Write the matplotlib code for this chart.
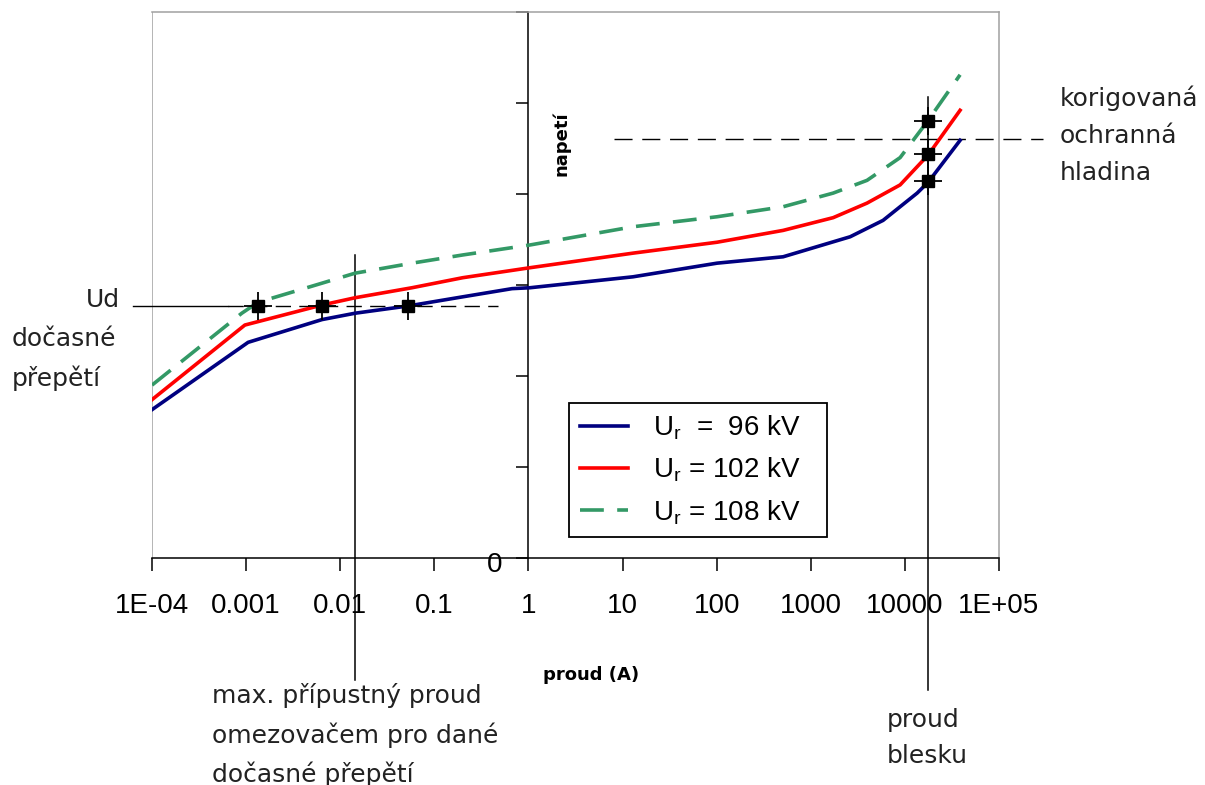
import numpy as np
import matplotlib.pyplot as plt

# proud (A) vs napeti, three arrester ratings
i_96 = [1e-4, 1.05e-3, 6.4e-3, 0.0144, 0.053, 0.2, 0.67, 1.04, 12.9, 101, 508, 2620, 5860, 13500, 17700, 38600]
u_96 = [1.63, 2.37, 2.62, 2.69, 2.77, 2.87, 2.96, 2.97, 3.09, 3.24, 3.31, 3.53, 3.71, 4.01, 4.13, 4.59]

i_102 = [1e-4, 9.7e-4, 6.4e-3, 0.0144, 0.058, 0.2, 1.04, 12.9, 101, 508, 1730, 3960, 8900, 17700, 38600]
u_102 = [1.74, 2.56, 2.78, 2.86, 2.97, 3.08, 3.19, 3.35, 3.47, 3.60, 3.74, 3.90, 4.10, 4.43, 4.92]

i_108 = [1e-4, 9e-4, 1.34e-3, 6.4e-3, 0.0144, 0.058, 0.2, 1.04, 12.9, 101, 508, 1730, 3960, 8900, 17700, 38600]
u_108 = [1.90, 2.69, 2.81, 3.02, 3.13, 3.24, 3.33, 3.44, 3.64, 3.75, 3.86, 4.01, 4.15, 4.40, 4.81, 5.31]

labels = ['U$_\\mathregular{r}$  =  96 kV', 'U$_\\mathregular{r}$ = 102 kV', 'U$_\\mathregular{r}$ = 108 kV']

ud = 2.77                      # docasne prepeti
ud_i = [1.34e-3, 6.4e-3, 0.0526]
ud_solid = [6.3e-5, 6.4e-4]
ud_dash = [6.4e-4, 0.475]

i_max = 0.0144                 # max. pripustny proud
i_max_u = [3.33, -1.34]
i_blesk = 17700                # proud blesku
i_blesk_u = [5.07, -1.45]
blesk_u = [4.14, 4.44, 4.80]

kor_u = 4.60                   # korigovana ochranna hladina
kor_i = [8.1, 2.9e5]

xticks = [1e-4, 1e-3, 1e-2, 1e-1, 1, 10, 100, 1000, 10000, 1e5]
xticklabels = ['1E-04', '0.001', '0.01', '0.1', '1', '10', '100', '1000', '10000', '1E+05']

W, H = 1205, 785
fig = plt.figure(figsize=(W / 100, H / 100), dpi=100)
ax = fig.add_axes([152 / W, 1 - 558 / H, (999 - 152) / W, (558 - 12) / H])
ax.set_xscale('log')
ax.set_xlim(1e-4, 1e5)
ax.set_ylim(0, 6)

gray = '#a0a0a0'
ax.spines['left'].set_position(('data', 1))
ax.spines['left'].set_color('black')
ax.spines['left'].set_linewidth(1.1)
ax.spines['bottom'].set_color('black')
ax.spines['bottom'].set_linewidth(1.1)
for s in ['top', 'right']:
    ax.spines[s].set_color(gray)
    ax.spines[s].set_linewidth(1.1)
ax.axvline(1e-4, color=gray, lw=1.1, zorder=1)

ax.set_xticks(xticks)
ax.set_xticklabels(xticklabels, fontfamily='Liberation Sans', fontsize=20)
ax.xaxis.set_minor_locator(plt.NullLocator())
ax.tick_params(axis='x', direction='out', length=9, width=1.1, pad=16, colors='black')
ax.set_yticks(range(7))
ax.tick_params(axis='y', direction='out', length=9, width=1.1, labelleft=False)

l1, = ax.plot(i_96, u_96, color='#000080', lw=2.6, zorder=3)
l2, = ax.plot(i_102, u_102, color='#ff0000', lw=2.6, zorder=3)
l3, = ax.plot(i_108, u_108, color='#339966', lw=2.6, dashes=(6.6, 3.7), zorder=3)

# Ud line
ax.plot(ud_solid, [ud, ud], color='black', lw=1.0, clip_on=False)
ax.plot(ud_dash, [ud, ud], color='black', lw=1.0, dashes=(11, 6))
# korigovana hladina
ax.plot(kor_i, [kor_u, kor_u], color='black', lw=1.0, dashes=(13, 7), clip_on=False)
# vertical guide lines
ax.plot([i_max, i_max], i_max_u, color='black', lw=1.1, clip_on=False)
ax.plot([i_blesk, i_blesk], i_blesk_u, color='black', lw=1.1, clip_on=False)

# markers
for xs, ys in [(ud_i, [ud] * 3), ([i_blesk] * 3, blesk_u)]:
    ax.plot(xs, ys, ls='none', marker='+', ms=20, mew=1.3, color='black', zorder=5)
    ax.plot(xs, ys, ls='none', marker='s', ms=8, color='black', zorder=5)

leg = ax.legend([l1, l2, l3], [s + '   ' for s in labels], loc='upper left',
                bbox_to_anchor=(569 / W, 1 - 403 / H), bbox_transform=fig.transFigure,
                prop={'family': 'Liberation Sans', 'size': 20},
                handlelength=1.75, handletextpad=0.9, labelspacing=0.48,
                borderpad=0.38, borderaxespad=0, fancybox=False, framealpha=1)
leg.get_frame().set_edgecolor('black')
leg.get_frame().set_linewidth(1.3)

def ftext(x, y, s, **kw):
    fig.text(x / W, 1 - y / H, s, **kw)

ftext(495, 565, '0', ha='center', va='center', fontfamily='Liberation Sans', fontsize=20)
ftext(561, 144, 'napetí', rotation=90, ha='center', va='center', fontsize=13, fontweight='bold')
ftext(591, 675, 'proud (A)', ha='center', va='center', fontsize=13, fontweight='bold')

ann = dict(fontsize=18, color='#222222', linespacing=1.68)
ftext(120, 300, 'Ud', ha='right', va='center', **ann)
ftext(12, 359, 'dočasné\npřepětí', ha='left', va='center', **ann)
ftext(1060, 135, 'korigovaná\nochranná\nhladina', ha='left', va='center', **ann)
ftext(212, 735, 'max. přípustný proud\nomezovačem pro dané\ndočasné přepětí', ha='left', va='center', **ann)
ftext(887, 738, 'proud\nblesku', ha='left', va='center', **ann)

fig.savefig('out.png', dpi=100)
